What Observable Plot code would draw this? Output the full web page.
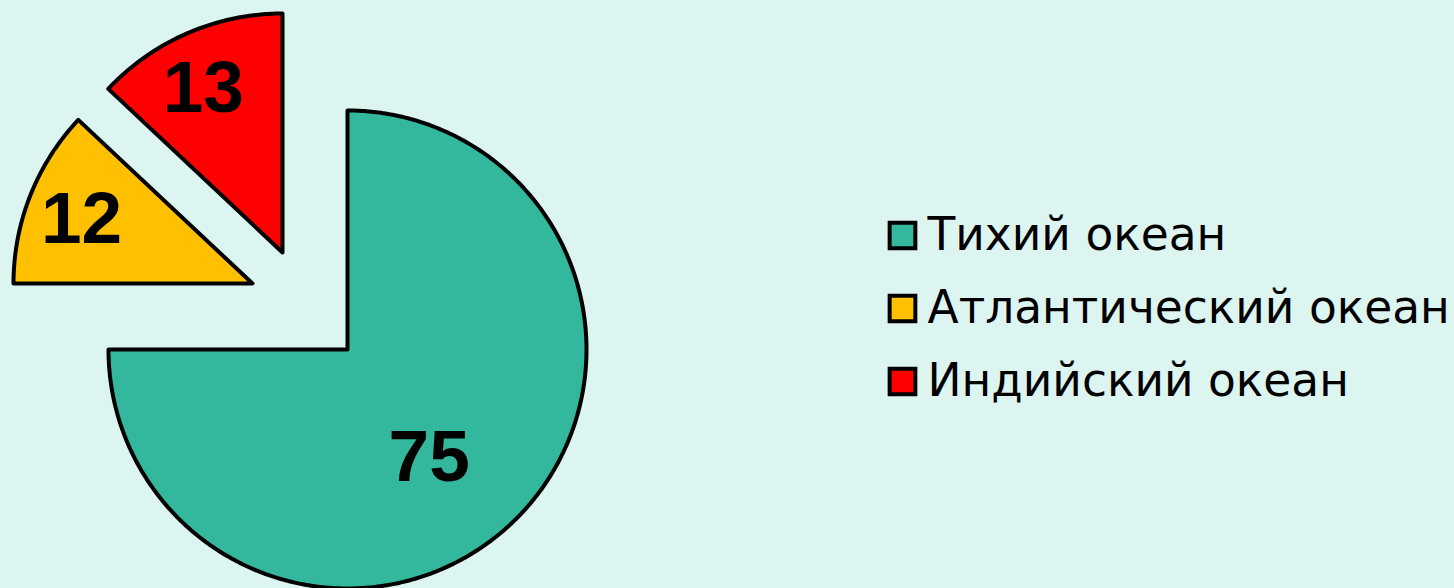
<!DOCTYPE html>
<html>
<head>
<meta charset="utf-8">
<script src="https://cdn.jsdelivr.net/npm/d3@7"></script>
<script src="https://cdn.jsdelivr.net/npm/@observablehq/plot@0.6"></script>
<style>
  html, body { margin: 0; padding: 0; background: #ddf5f1; }
  #chart svg { display: block; }
</style>
</head>
<body>
<div id="chart"></div>
<script>
// ---- data ----
const oceans = ["Тихий океан", "Атлантический океан", "Индийский океан"];
const values = [75, 12, 13];
const colors = ["#33b89e", "#ffc000", "#ff0000"];

// ---- layout (pixels) ----
const W = 1454, H = 588;
const layout = {
  cx: 347, cy: 349, r: 239,
  explode: [[0, 0], [-95, -66], [-65, -97]],
  labelR: [0.56, 0.76, 0.76],
  labelNudge: [[-13, 13], [-2, 3], [-7, 3]],
  legendX: 902, legendY0: 235, legendDY: 73, legendGap: 25
};

const arcs = d3.pie().sort(null)(values);

const slicePts = [];
const labels = [];
arcs.forEach((a, i) => {
  const [ox, oy] = layout.explode[i];
  const cx = layout.cx + ox, cy = layout.cy + oy;
  const name = oceans[i];
  slicePts.push({ name, x: cx, y: cy });
  const n = Math.max(8, Math.ceil((a.endAngle - a.startAngle) / 0.01));
  for (let k = 0; k <= n; k++) {
    const t = a.startAngle + (a.endAngle - a.startAngle) * k / n;
    slicePts.push({ name, x: cx + layout.r * Math.sin(t), y: cy - layout.r * Math.cos(t) });
  }
  const m = (a.startAngle + a.endAngle) / 2;
  const lr = layout.r * layout.labelR[i];
  const [nx, ny] = layout.labelNudge[i];
  labels.push({ name, value: values[i], x: cx + lr * Math.sin(m) + nx, y: cy - lr * Math.cos(m) + ny });
});

const legend = oceans.map((name, i) => ({
  name,
  x: layout.legendX,
  y: layout.legendY0 + i * layout.legendDY
}));

const plot = Plot.plot({
  width: W, height: H,
  margin: 0,
  x: { domain: [0, W], range: [0, W], axis: null },
  y: { domain: [0, H], range: [0, H], axis: null },
  color: { domain: oceans, range: colors },
  style: { background: "#ddf5f1", overflow: "visible" },
  marks: [
    Plot.line(slicePts, {
      x: "x", y: "y", z: "name", fill: "name",
      stroke: "#000", strokeWidth: 4, strokeLinejoin: "round",
      curve: "linear-closed"
    }),
    Plot.text(labels, {
      x: "x", y: "y", text: d => String(d.value),
      fontSize: 73, fontWeight: "bold", fill: "#000",
      fontFamily: "Liberation Sans, Arial, sans-serif",
      textAnchor: "middle", lineAnchor: "middle"
    }),
    Plot.dot(legend, {
      x: "x", y: "y", symbol: "square", r: 14.5,
      fill: "name", stroke: "#000", strokeWidth: 4
    }),
    Plot.text(legend, {
      x: d => d.x + layout.legendGap, y: "y", text: "name",
      fontSize: 45.5, fill: "#000",
      fontFamily: "DejaVu Sans, sans-serif",
      textAnchor: "start", lineAnchor: "middle"
    })
  ]
});
document.getElementById("chart").appendChild(plot);
</script>
</body>
</html>
